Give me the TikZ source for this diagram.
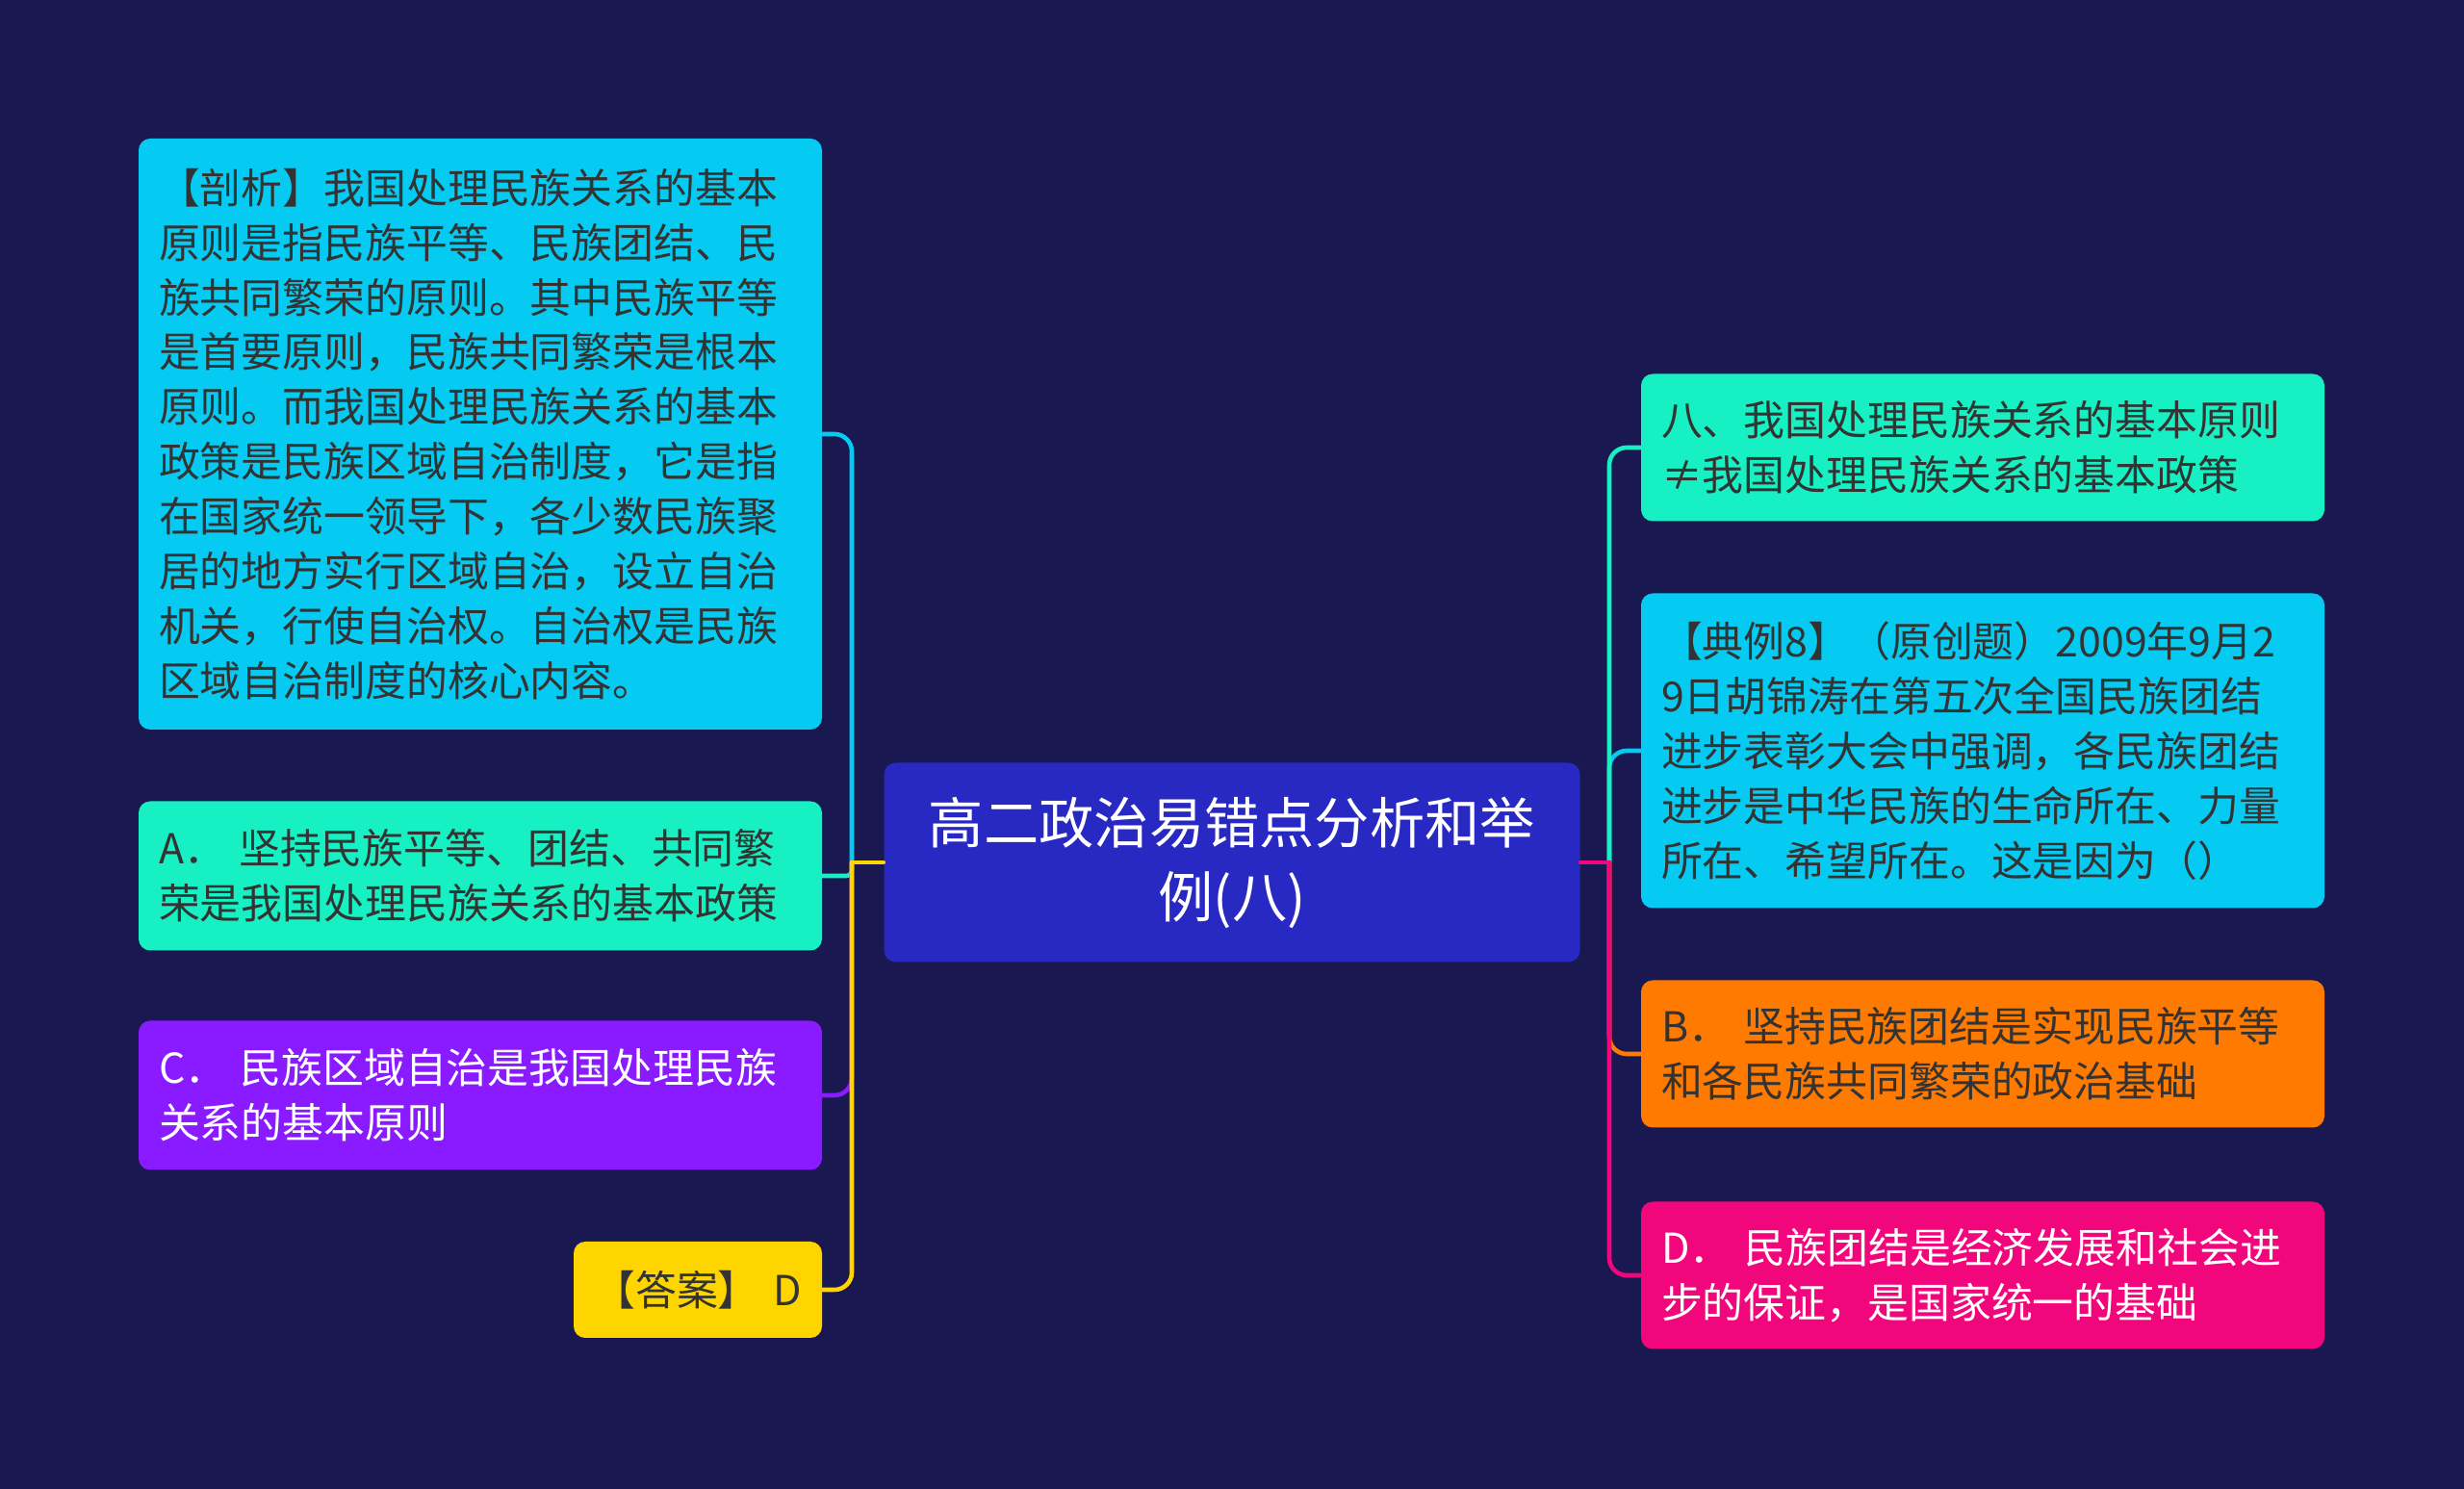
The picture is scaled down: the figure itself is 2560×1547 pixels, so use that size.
\documentclass[tikz,border=0pt]{standalone}
\usepackage{fontspec}
\setmainfont{Noto Sans CJK SC}
\definecolor{bgnavy}{HTML}{1A1851}
\definecolor{topicblue}{HTML}{2828C3}
\definecolor{skycyan}{HTML}{05CBF2}
\definecolor{mintgreen}{HTML}{16F0C3}
\definecolor{violet}{HTML}{8A1AFF}
\definecolor{sunyellow}{HTML}{FFD500}
\definecolor{tangerine}{HTML}{FF7A00}
\definecolor{rosepink}{HTML}{F2067C}
\definecolor{inkgray}{HTML}{333333}

\begin{document}
\begin{tikzpicture}[x=0.1mm, y=-0.1mm, line join=round, line cap=round,
    topic/.style={fill=topicblue, text=white, rounded corners=1.2mm, align=center,
        minimum width=7.23cm, minimum height=2.07cm, inner sep=0pt,
        font=\fontsize{16.3pt}{21.9pt}\selectfont},
    leaf/.style={rounded corners=1.2mm, text width=6.68cm, inner xsep=2.1mm, inner ysep=0pt,
        align=left, text=inkgray, font=\fontsize{12.2pt}{16.2pt}\selectfont},
    link/.style={line width=1.3pt}]
    % 背景
    \useasboundingbox (0,0) rectangle (2560,1547);
    \fill[bgnavy] (0,0) rectangle (2560,1547);

    % 中心主题
    \node[topic] (main) at (1280,896) {高二政治易错点分析和举\\例(八)};

    % 左侧分支
    \node[leaf, fill=skycyan, minimum height=6.14cm] (jiexi) at (499,451)
        {【剖析】我国处理民族关系的基本\\原则是指民族平等、民族团结、民\\族共同繁荣的原则。其中民族平等\\是首要原则，民族共同繁荣是根本\\原则。而我国处理民族关系的基本\\政策是民族区域自治制度，它是指\\在国家统一领导下，各少数民族聚\\居的地方实行区域自治，设立自治\\机关，行使自治权。自治权是民族\\区域自治制度的核心内容。};
    \node[leaf, fill=mintgreen, minimum height=1.55cm] (optA) at (499,910)
        {A． 坚持民族平等、团结、共同繁\\荣是我国处理民族关系的基本政策};
    \node[leaf, fill=violet, text=white, minimum height=1.55cm] (optC) at (499,1138)
        {C． 民族区域自治是我国处理民族\\关系的基本原则};
    \node[leaf, fill=sunyellow, text width=2.16cm, align=center, minimum height=1.0cm] (answer) at (725,1340)
        {【答案】 D};

    % 右侧分支
    \node[leaf, fill=mintgreen, minimum height=1.53cm] (yuanze) at (2060,465)
        {八、我国处理民族关系的基本原则\\≠我国处理民族关系的基本政策};
    \node[leaf, fill=skycyan, minimum height=3.27cm] (dianli) at (2060,780)
        {【典例8】（原创题）2009年9月2\\9日胡锦涛在第五次全国民族团结\\进步表彰大会中强调，各民族团结\\进步是中华民族的生命所在、力量\\所在、希望所在。这是因为（）};
    \node[leaf, fill=tangerine, minimum height=1.53cm] (optB) at (2060,1095)
        {B． 坚持民族团结是实现民族平等\\和各民族共同繁荣的政治基础};
    \node[leaf, fill=rosepink, text=white, minimum height=1.53cm] (optD) at (2060,1325)
        {D． 民族团结是经济发展和社会进\\步的保证，是国家统一的基础};

    % 连线
    \coordinate (lhub) at (885,896);
    \coordinate (rhub) at (1672,896);
    \draw[link, skycyan, rounded corners=1.8mm] (lhub) |- (jiexi.east);
    \draw[link, mintgreen, rounded corners=0.6mm] (lhub) |- (optA.east);
    \draw[link, violet, rounded corners=1.8mm] (lhub) |- (optC.east);
    \draw[link, sunyellow, rounded corners=1.8mm] (lhub) |- (answer.east);
    \draw[link, sunyellow] (main.west) -- (lhub);

    \draw[link, skycyan, rounded corners=1.8mm] (rhub) |- (dianli.west);
    \draw[link, mintgreen, rounded corners=1.8mm] (rhub) |- (yuanze.west);
    \draw[link, tangerine, rounded corners=1.8mm] (rhub) |- (optB.west);
    \draw[link, rosepink, rounded corners=1.8mm] (rhub) |- (optD.west);
    \draw[link, rosepink] (main.east) -- (rhub);
\end{tikzpicture}
\end{document}
